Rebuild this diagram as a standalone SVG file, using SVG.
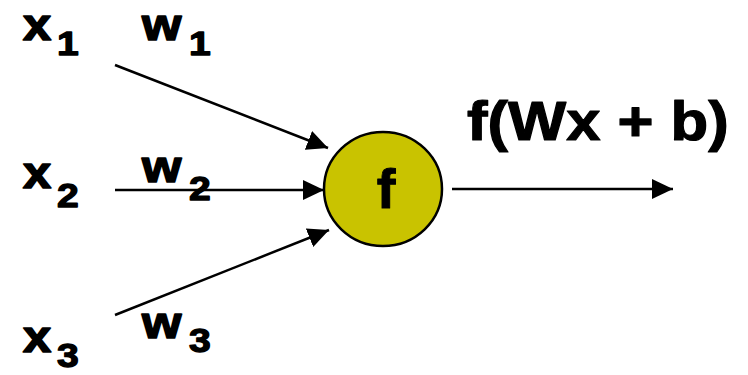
<svg xmlns="http://www.w3.org/2000/svg" width="748" height="375" viewBox="0 0 748 375">
<style>
.t{font-family:"Liberation Sans",Arial,sans-serif;font-weight:bold;fill:#000;stroke:#000;stroke-linejoin:round}
.big{font-size:44px;stroke-width:1.6px}
.sub{font-size:34px;stroke-width:1.3px}
.ln{stroke:#000;stroke-width:2.5;fill:none}
</style>
<defs>
<marker id="ah" viewBox="0 0 21 20" refX="21" refY="10" markerWidth="21" markerHeight="20" markerUnits="userSpaceOnUse" orient="auto">
<path d="M0,0 L21,10 L0,20 z" fill="#000"/>
</marker>
</defs>
<rect width="748" height="375" fill="#fff"/>
<g id="connectors">
<line class="ln" x1="115" y1="65" x2="328" y2="148" marker-end="url(#ah)"/>
<line class="ln" x1="115" y1="190" x2="324" y2="190" marker-end="url(#ah)"/>
<line class="ln" x1="115" y1="315" x2="329" y2="230" marker-end="url(#ah)"/>
<line class="ln" x1="452" y1="189" x2="673" y2="189" marker-end="url(#ah)"/>
</g>
<g id="x1"><text class="t big" transform="translate(23,40) scale(1.15,1)">x</text><text class="t sub" transform="translate(57,55) scale(1.15,1)">1</text></g>
<g id="w1"><text class="t big" transform="translate(142,40) scale(1.15,1)">w</text><text class="t sub" transform="translate(189,55) scale(1.15,1)">1</text></g>
<g id="x2"><text class="t big" transform="translate(23,188) scale(1.15,1)">x</text><text class="t sub" transform="translate(57,207) scale(1.15,1)">2</text></g>
<g id="w2"><text class="t big" transform="translate(142,182) scale(1.15,1)">w</text><text class="t sub" transform="translate(189,200) scale(1.15,1)">2</text></g>
<g id="x3"><text class="t big" transform="translate(23,352) scale(1.15,1)">x</text><text class="t sub" transform="translate(57,367) scale(1.15,1)">3</text></g>
<g id="w3"><text class="t big" transform="translate(142,338) scale(1.15,1)">w</text><text class="t sub" transform="translate(189,352) scale(1.15,1)">3</text></g>
<g id="neuron">
<ellipse cx="383" cy="189" rx="59" ry="57" fill="#c9c300" stroke="#000" stroke-width="2.5"/>
<text class="t" x="386" y="208" font-size="56" stroke-width="1" text-anchor="middle">f</text>
</g>
<g id="output-label"><text class="t" transform="translate(467,140) scale(1.1,1)" font-size="56" stroke-width="1.2">f(Wx + b)</text></g>
</svg>
